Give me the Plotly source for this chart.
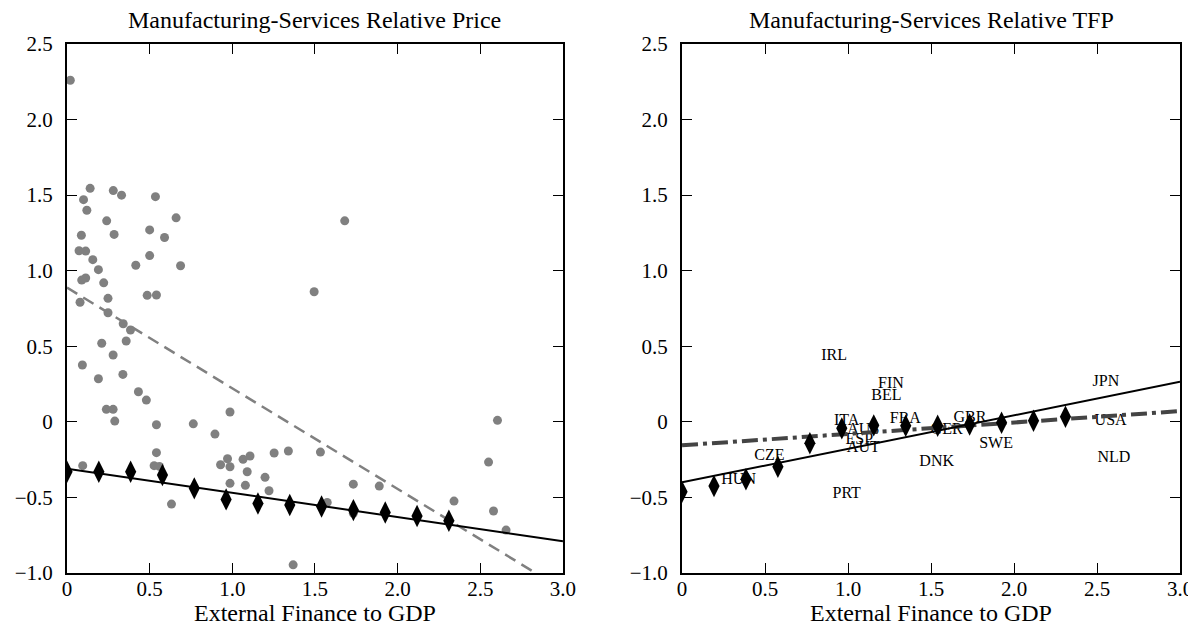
import plotly.graph_objects as go

# ---------------- data ----------------
# Left panel: country-industry scatter (External finance to GDP vs relative price)
price_x = [0.02, 0.14, 0.10, 0.28, 0.33, 0.535, 0.12, 0.24, 0.66, 0.087, 0.285, 0.50, 0.59,
           0.073, 0.113, 0.156, 0.50, 0.416, 0.687, 0.19, 0.089, 0.113, 0.222, 0.485, 0.541,
           0.248, 0.079, 0.248, 0.34, 0.384, 0.358, 0.21, 0.279, 0.093, 0.338, 0.19, 0.432,
           0.48, 0.238, 0.279, 0.986, 0.289, 0.541, 0.764, 0.895, 0.541, 0.095, 0.527, 0.559,
           0.632, 0.929, 0.971, 0.986, 1.065, 1.107, 1.09, 0.986, 1.079, 1.198, 1.222, 1.253,
           1.339, 1.368, 1.533, 1.732, 1.889, 2.341, 2.55, 2.604, 2.58, 2.656, 1.574, 1.732,
           1.495, 1.68]
price_y = [2.26, 1.545, 1.47, 1.53, 1.50, 1.49, 1.40, 1.33, 1.35, 1.235, 1.24, 1.27, 1.22,
           1.132, 1.13, 1.073, 1.10, 1.036, 1.033, 1.007, 0.938, 0.952, 0.92, 0.837, 0.839,
           0.817, 0.791, 0.722, 0.649, 0.608, 0.535, 0.52, 0.442, 0.376, 0.314, 0.285, 0.199,
           0.144, 0.083, 0.083, 0.065, 0.005, -0.019, -0.013, -0.081, -0.204, -0.29, -0.29, -0.295,
           -0.544, -0.284, -0.244, -0.297, -0.248, -0.226, -0.33, -0.407, -0.42, -0.367, -0.456, -0.206,
           -0.193, -0.946, -0.2, -0.412, -0.425, -0.524, -0.266, 0.01, -0.59, -0.716, -0.533, -0.605,
           0.861, 1.33]

# Binned model points (diamonds)
bin_x = [0.0, 0.1925, 0.385, 0.5775, 0.77, 0.9625, 1.155, 1.3475, 1.54, 1.7325, 1.925, 2.1175, 2.31]
price_model_y = [-0.33, -0.33, -0.33, -0.352, -0.44, -0.513, -0.54, -0.55, -0.56, -0.584, -0.60, -0.623, -0.654]
tfp_model_y = [-0.463, -0.425, -0.38, -0.297, -0.142, -0.043, -0.023, -0.026, -0.026, -0.017, -0.006, 0.007, 0.034]

# Fitted lines (endpoints)
line_x = [0.0, 3.0]
price_fit_model = [-0.31, -0.79]
price_fit_data = [0.888, -1.11]
tfp_fit_model = [-0.40, 0.265]
tfp_fit_data = [-0.155, 0.071]

# Right panel: country labels
countries = ["IRL", "FIN", "BEL", "ITA", "FRA", "AUS", "ESP", "AUT", "CZE", "HUN", "PRT",
             "DNK", "GER", "GBR", "SWE", "JPN", "USA", "NLD"]
country_x = [0.916, 1.259, 1.231, 0.992, 1.345, 1.092, 1.068, 1.092, 0.526, 0.341, 0.992,
             1.534, 1.594, 1.735, 1.892, 2.554, 2.582, 2.602]
country_y = [0.437, 0.248, 0.173, 0.005, 0.02, -0.054, -0.12, -0.171, -0.226, -0.385, -0.48,
             -0.264, -0.054, 0.023, -0.149, 0.265, 0.007, -0.24]

x_ticks = [0, 0.5, 1.0, 1.5, 2.0, 2.5, 3.0]
x_ticktext = ["0", "0.5", "1.0", "1.5", "2.0", "2.5", "3.0"]
y_ticks = [-1.0, -0.5, 0, 0.5, 1.0, 1.5, 2.0, 2.5]
y_ticktext = ["\u22121.0", "\u22120.5", "0", "0.5", "1.0", "1.5", "2.0", "2.5"]

titles = ["Manufacturing-Services Relative Price", "Manufacturing-Services Relative TFP"]
x_title = "External Finance to GDP"

# ---------------- figure ----------------
FONT = "Liberation Serif"
fig = go.Figure()

# Left panel
fig.add_trace(go.Scatter(x=price_x, y=price_y, mode="markers",
                         marker=dict(color="#808080", size=9, line=dict(width=0)),
                         xaxis="x", yaxis="y", showlegend=False))
fig.add_trace(go.Scatter(x=line_x, y=price_fit_data, mode="lines",
                         line=dict(color="#808080", width=2.5, dash="12px,7px"),
                         xaxis="x", yaxis="y", showlegend=False))
fig.add_trace(go.Scatter(x=line_x, y=price_fit_model, mode="lines",
                         line=dict(color="black", width=2),
                         xaxis="x", yaxis="y", showlegend=False))
fig.add_trace(go.Scatter(x=bin_x, y=price_model_y, mode="markers",
                         marker=dict(symbol="diamond-tall", color="black", size=16, line=dict(width=0)),
                         xaxis="x", yaxis="y", showlegend=False))

# Right panel
fig.add_trace(go.Scatter(x=country_x, y=country_y, mode="text", text=countries,
                         textfont=dict(family=FONT, size=16, color="black"),
                         textposition="middle center",
                         xaxis="x2", yaxis="y2", showlegend=False))
fig.add_trace(go.Scatter(x=line_x, y=tfp_fit_data, mode="lines",
                         line=dict(color="#444444", width=4, dash="16px,5px,4px,5px"),
                         xaxis="x2", yaxis="y2", showlegend=False))
fig.add_trace(go.Scatter(x=line_x, y=tfp_fit_model, mode="lines",
                         line=dict(color="black", width=2),
                         xaxis="x2", yaxis="y2", showlegend=False))
fig.add_trace(go.Scatter(x=bin_x, y=tfp_model_y, mode="markers",
                         marker=dict(symbol="diamond-tall", color="black", size=16, line=dict(width=0)),
                         xaxis="x2", yaxis="y2", showlegend=False))

xcommon = dict(range=[0, 3], tickvals=x_ticks, ticktext=x_ticktext, ticks="inside",
               ticklen=10, tickwidth=1, tickcolor="black", showline=True, linewidth=2,
               linecolor="black", mirror="ticks", showgrid=False, zeroline=False,
               automargin=False,
               tickfont=dict(family=FONT, size=21, color="black"), ticklabelstandoff=-4)
ycommon = dict(range=[-1, 2.5], tickvals=y_ticks, ticktext=y_ticktext, ticks="inside",
               ticklen=10, tickwidth=1, tickcolor="black", showline=True, linewidth=2,
               linecolor="black", mirror="ticks", showgrid=False, zeroline=False,
               automargin=False,
               tickfont=dict(family=FONT, size=21, color="black"), ticklabelstandoff=8)

d1 = [0.0, 0.4456]
d2 = [0.5526, 1.0]
# The page body has an 8px margin, so the figure margins are offset by 8px.
fig.update_layout(
    width=1196, height=633,
    margin=dict(l=59, r=24, t=36, b=68, autoexpand=False),
    paper_bgcolor="white", plot_bgcolor="white",
    xaxis=dict(domain=d1, anchor="y", **xcommon),
    yaxis=dict(domain=[0, 1], anchor="x", **ycommon),
    xaxis2=dict(domain=d2, anchor="y2", **xcommon),
    yaxis2=dict(domain=[0, 1], anchor="x2", **ycommon),
    font=dict(family=FONT, color="black"),
)

annotations = []
for dom, t in zip([d1, d2], titles):
    cx = (dom[0] + dom[1]) / 2
    annotations.append(dict(x=cx, y=1.046, xref="paper", yref="paper", text=t,
                            showarrow=False, xanchor="center", yanchor="middle",
                            font=dict(family=FONT, size=24, color="black")))
    annotations.append(dict(x=cx, y=-0.0756, xref="paper", yref="paper", text=x_title,
                            showarrow=False, xanchor="center", yanchor="middle",
                            font=dict(family=FONT, size=24, color="black")))
fig.update_layout(annotations=annotations)

fig.write_html("out.html")
